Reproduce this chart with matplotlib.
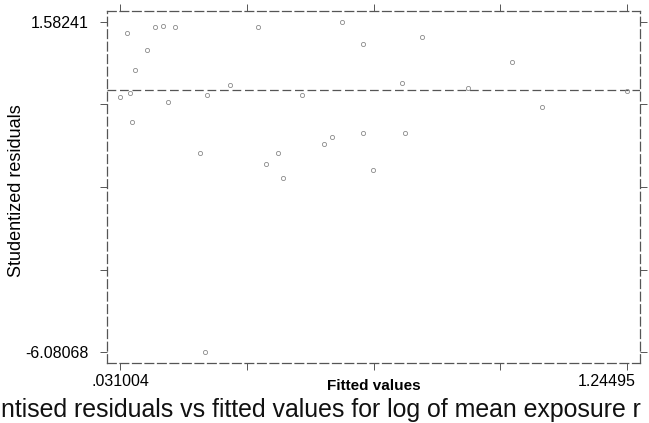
import matplotlib
matplotlib.use("Agg")
import matplotlib.pyplot as plt
import matplotlib.transforms as mtransforms
import numpy as np

# ---- data ----
fitted = [0.0478, 0.1148, 0.1340, 0.1630, 0.0957, 0.0669, 0.031004, 0.0550,
          0.1460, 0.2390, 0.2940, 0.0597, 0.3610, 0.5630, 0.6130, 0.4670,
          0.7540, 0.7060, 0.8640, 0.7130, 0.9700, 1.0420, 1.24495, 0.2230,
          0.6130, 0.5390, 0.5190, 0.4090, 0.3810, 0.4210, 0.6370, 0.2350]
resid = [1.327, 1.466, 1.480, 1.466, 0.932, 0.468, -0.159, -0.067,
         -0.275, -0.113, 0.119, -0.740, 1.466, 1.58241, 1.071, -0.113,
         1.234, 0.166, 0.050, -0.995, 0.654, -0.392, -0.020, -1.460,
         -0.995, -1.088, -1.251, -1.460, -1.716, -2.040, -1.855, -6.08068]

x_tick_labels = [".031004", "", "", "", "1.24495"]
y_tick_labels = ["-6.08068", "", "", "", "1.58241"]
caption = "ntised residuals vs fitted values for log of mean exposure r"

FONT = ["Liberation Sans", "DejaVu Sans"]
plt.rcParams["font.family"] = FONT

fig = plt.figure(figsize=(6.49, 4.23), dpi=100)
fig.patch.set_facecolor("white")
ax = fig.add_axes([107 / 649, 1 - 363 / 423, 533 / 649, 352 / 423])

x = np.array(fitted)
y = np.array(resid)
xmin, xmax = x.min(), x.max()
ymin, ymax = y.min(), y.max()

ax.plot(x, y, "o", ms=3, mfc="none", mec="#8a8a8a", mew=0.6, zorder=3)

# zero reference line
ax.axhline(0, color="#555555", lw=0.9, dashes=(7, 3), zorder=2)

xm = (xmax - xmin) * 13 / 507
ym = (ymax - ymin) * 11 / 330
ax.set_xlim(xmin - xm, xmax + xm)
ax.set_ylim(ymin - ym, ymax + ym)

# dashed frame
for s in ax.spines.values():
    s.set_linestyle((0, (7, 3)))
    s.set_color("#555555")
    s.set_linewidth(0.9)

xt = np.linspace(xmin, xmax, 5)
yt = np.linspace(ymin, ymax, 5)
ax.set_xticks(xt)
ax.set_xticklabels(x_tick_labels, fontsize=11.5)
ax.set_yticks(yt)
ax.set_yticklabels(y_tick_labels, fontsize=11.5)
ax.tick_params(axis="both", which="both", direction="out", length=5,
               width=0.7, color="#555555", top=True, right=True)
ax.tick_params(axis="x", pad=3)
ax.tick_params(axis="y", pad=8)

# the right-hand x label sits a little left of its tick in the scan
lbl = ax.get_xticklabels()[-1]
lbl.set_transform(lbl.get_transform() +
                  mtransforms.ScaledTranslation(-0.2, 0, fig.dpi_scale_trans))

ax.set_xlabel("Fitted values", fontsize=11, fontweight="bold")
ax.xaxis.set_label_coords(0.5, -23 / 352)
ax.xaxis.label.set_va("center")
ax.set_ylabel("Studentized residuals", fontsize=13)
ax.yaxis.set_label_coords(-90 / 533, 0.49)
ax.yaxis.label.set_va("center")

fig.text(0.002, 1 - 410 / 423, caption, fontsize=17.9, ha="left", va="center",
         color="#111111")

fig.savefig("out.png", dpi=100, facecolor="white")
